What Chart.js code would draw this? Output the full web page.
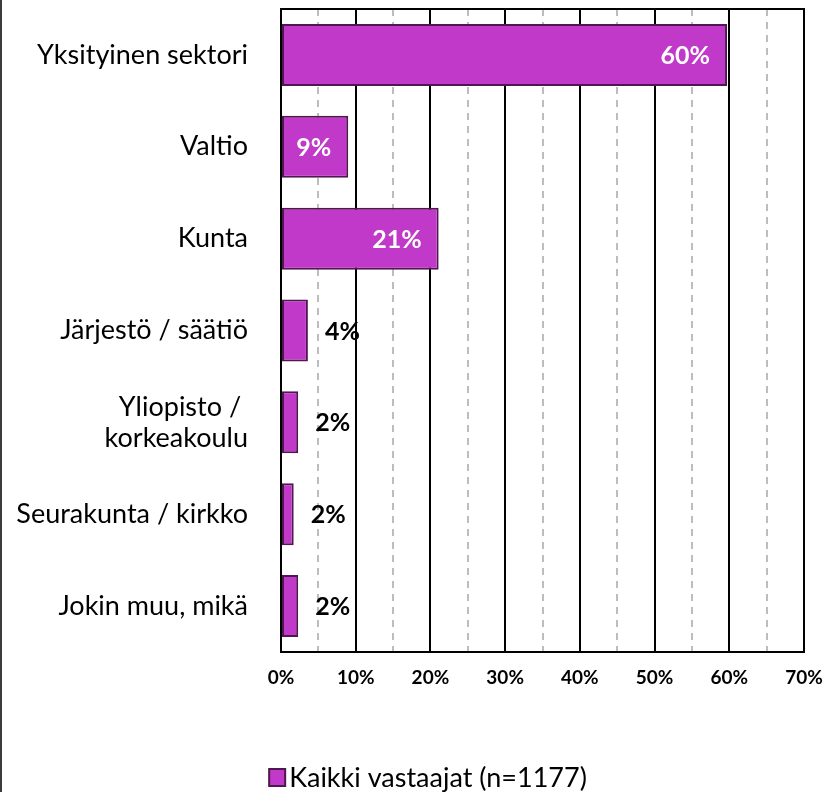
<!DOCTYPE html>
<html><head><meta charset="utf-8">
<script src="https://cdn.jsdelivr.net/npm/chart.js@4/dist/chart.umd.min.js"></script>
<style>html,body{margin:0;padding:0;background:#fff}#wrap{width:826px;height:792px;position:relative}</style>
</head><body><div id="wrap"><canvas id="c" width="826" height="792"></canvas></div>
<script>
// ---- data ----
const categories = ['Yksityinen sektori', 'Valtio', 'Kunta', 'Järjestö / säätiö', ['Yliopisto / ', 'korkeakoulu'], 'Seurakunta / kirkko', 'Jokin muu, mikä'];
const values = [59.7, 9.0, 21.1, 3.6, 2.3, 1.7, 2.3];
const valueLabels = ['60%', '9%', '21%', '4%', '2%', '2%', '2%'];
const seriesName = 'Kaikki vastaajat (n=1177)';
const xMin = 0, xMax = 70, xStep = 5, xLabelStep = 10;

// ---- styles ----
const FONT = "Lato, 'DejaVu Sans', sans-serif";
const BAR_FILL = '#C039C8';
const BAR_BORDER = '#50164F';

const extras = {
  id: 'extras',
  afterDatasetsDraw(chart) {
    const {ctx} = chart;
    const meta = chart.getDatasetMeta(0);
    ctx.save();
    ctx.font = 'bold 25px ' + FONT;
    ctx.textBaseline = 'middle';
    meta.data.forEach((bar, i) => {
      const v = values[i];
      if (v >= 9) {
        ctx.fillStyle = '#ffffff';
        ctx.textAlign = 'right';
        ctx.fillText(valueLabels[i], bar.x - 17, bar.y + 1);
      } else {
        ctx.fillStyle = '#000000';
        ctx.textAlign = 'left';
        ctx.fillText(valueLabels[i], bar.x + 17, bar.y + 1);
      }
    });
    ctx.restore();
  },
  afterDraw(chart) {
    const {ctx, chartArea} = chart;
    ctx.save();
    // top frame line of plot area
    ctx.strokeStyle = '#000';
    ctx.lineWidth = 2;
    ctx.beginPath();
    ctx.moveTo(chartArea.left, chartArea.top);
    ctx.lineTo(chartArea.right + 1, chartArea.top);
    ctx.stroke();
    // left edge line of the image
    ctx.fillStyle = '#3c3c3c';
    ctx.fillRect(0, 0, 2, chart.height);
    // legend
    ctx.font = '27px ' + FONT;
    const tw = ctx.measureText(seriesName).width;
    const total = 16 + 4 + tw;
    const x0 = 428 - total / 2;
    const yc = 777;
    ctx.fillStyle = BAR_FILL;
    ctx.fillRect(x0, yc - 8, 16, 17);
    ctx.strokeStyle = BAR_BORDER;
    ctx.lineWidth = 2;
    ctx.strokeRect(x0, yc - 8, 16, 17);
    ctx.fillStyle = '#000';
    ctx.textAlign = 'left';
    ctx.textBaseline = 'middle';
    ctx.fillText(seriesName, x0 + 20, yc + 1);
    ctx.restore();
  }
};

new Chart(document.getElementById('c'), {
  type: 'bar',
  data: {
    labels: categories,
    datasets: [{
      label: seriesName,
      data: values,
      backgroundColor: BAR_FILL,
      borderColor: BAR_BORDER,
      borderWidth: 2,
      borderSkipped: false,
      categoryPercentage: 1,
      barPercentage: 0.675
    }]
  },
  options: {
    indexAxis: 'y',
    responsive: false,
    devicePixelRatio: 1,
    animation: false,
    layout: {padding: {top: 9, right: 22, bottom: 0, left: 0}},
    plugins: {legend: {display: false}, tooltip: {enabled: false}},
    scales: {
      x: {
        min: xMin, max: xMax,
        afterFit(scale) { scale.height = 140; scale.paddingLeft = 0; scale.paddingRight = 0; },
        ticks: {
          stepSize: xStep,
          autoSkip: false,
          maxRotation: 0,
          padding: 14,
          color: '#000',
          font: {family: FONT, size: 19, weight: 'bold'},
          callback: (v) => (v % xLabelStep === 0 ? v + '%' : '')
        },
        grid: {
          drawTicks: false,
          lineWidth: 2,
          color: (c) => (c.tick && c.tick.value % xLabelStep !== 0 ? '#BDBDBD' : '#000')
        },
        border: {
          color: '#000', width: 2,
          dash: (c) => (c.tick && c.tick.value % xLabelStep !== 0 ? [7, 6] : [])
        }
      },
      y: {
        afterFit(scale) { scale.width = 281; scale.paddingTop = 0; scale.paddingBottom = 0; },
        ticks: {
          padding: 25,
          color: '#000',
          font: {family: FONT, size: 27, lineHeight: 1.15}
        },
        grid: {display: false},
        border: {color: '#000', width: 2}
      }
    }
  },
  plugins: [extras]
});
</script></body></html>
